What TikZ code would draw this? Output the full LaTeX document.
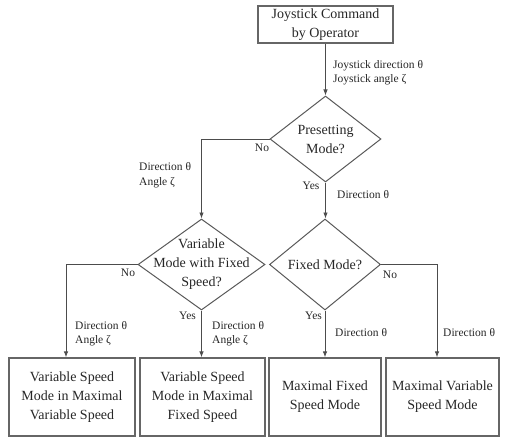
\documentclass[tikz,border=0pt]{standalone}
\usepackage{fontspec}
\setmainfont{Liberation Serif}
\usepackage{tikz}
\usetikzlibrary{
  shapes.geometric,
  arrows.meta
}

\begin{document}
\begin{tikzpicture}[%スタイル設定
          x=1pt,y=-1pt,
          box/.style={
              draw=black!60,
              line width=1.2pt,
              inner sep=0pt,
              align=center,
              text=black!85,
              font=\fontsize{14}{19}\selectfont
            },decision/.style={
              draw=black!65,
              line width=1pt,
              shape=diamond,
              inner sep=0pt,
              minimum width=#1
            },lbl/.style={
              inner sep=0pt,
              align=left,
              text=black!85,
              font=\fontsize{11.5}{14.5}\selectfont
            },flow/.style={
              draw=black!70,
              line width=0.9pt,
              -{Latex[length=6pt,width=4.5pt]}
            },decision/.default=111pt
        ]

        % 図の範囲
        \useasboundingbox (0,0) rectangle (505,444);

        % 箱の描画
        \node[box,minimum width=135pt,minimum height=37pt] (cmd) at (325.5,24.5)
          {Joystick Command\\by Operator};
        \node[box,minimum width=126pt,minimum height=78pt] (varmax) at (72,397)
          {Variable Speed\\Mode in Maximal\\Variable Speed};
        \node[box,minimum width=125pt,minimum height=78pt] (varfix) at (202.5,397)
          {Variable Speed\\Mode in Maximal\\Fixed Speed};
        \node[box,minimum width=112pt,minimum height=78pt] (maxfix) at (325,397)
          {Maximal Fixed\\Speed Mode};
        \node[box,minimum width=113pt,minimum height=78pt] (maxvar) at (442.5,397)
          {Maximal Variable\\Speed Mode};

        % 判断の描画
        \node[decision,minimum height=86pt,
          label={[box,draw=none]center:Presetting\\Mode?}] (preset) at (325.5,139) {};
        \node[decision=127pt,minimum height=91pt,
          label={[box,draw=none]center:Variable\\Mode with Fixed\\Speed?}] (varmode) at (201.5,264.5) {};
        \node[decision,minimum height=91pt,
          label={[box,draw=none]center:Fixed Mode?}] (fixmode) at (325,264.5) {};

        % 矢印
        \draw[flow] (cmd) -- (preset);
        \draw[flow] (preset.west) -| (varmode.north);
        \draw[flow] (preset.south) -- (preset.south |- fixmode.north);
        \draw[flow] (varmode.west) -| ([xshift=-6pt]varmax.north);
        \draw[flow] (varmode.south) -- (varmode.south |- varfix.north);
        \draw[flow] (fixmode.south) -- (fixmode.south |- maxfix.north);
        \draw[flow] (fixmode.east) -| ([xshift=-5.5pt]maxvar.north);

        % ラベル
        \node[lbl,anchor=west] (joy) at (333,72.5)
          {Joystick direction θ\\Joystick angle ζ};
        \node[lbl] (pno) at (262,148) {No};
        \node[lbl,anchor=west] (pnodir) at (139,175) {Direction θ\\Angle ζ};
        \node[lbl] (pyes) at (311,186) {Yes};
        \node[lbl,anchor=west] (pyesdir) at (337,195) {Direction θ};
        \node[lbl] (vno) at (128,273) {No};
        \node[lbl] (vyes) at (187.5,316) {Yes};
        \node[lbl,anchor=west] (vnodir) at (75,333.5) {Direction θ\\Angle ζ};
        \node[lbl,anchor=west] (vyesdir) at (212,333.5) {Direction θ\\Angle ζ};
        \node[lbl] (fyes) at (313.5,316) {Yes};
        \node[lbl] (fno) at (390,275) {No};
        \node[lbl,anchor=west] (fyesdir) at (335,333) {Direction θ};
        \node[lbl,anchor=west] (fnodir) at (443,333) {Direction θ};

      \end{tikzpicture}
\end{document}
